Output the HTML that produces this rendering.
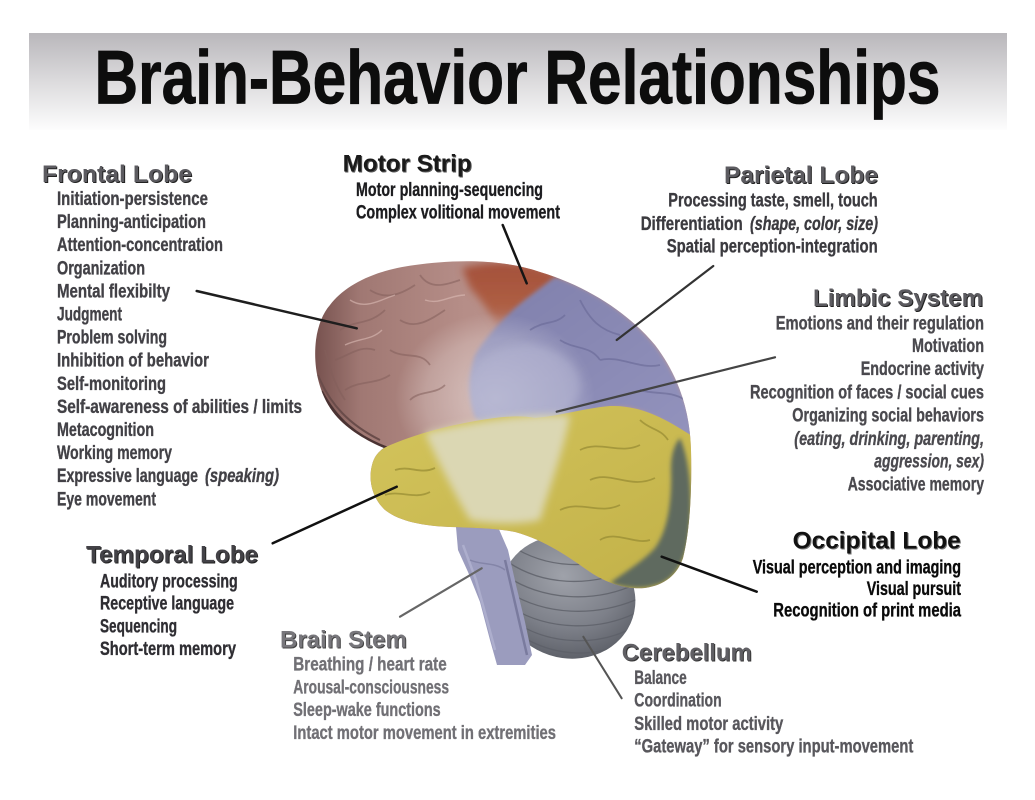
<!DOCTYPE html>
<html><head><meta charset="utf-8">
<style>
html,body{margin:0;padding:0;background:#fff;}
svg{display:block;}
.it{font-family:"Liberation Sans Narrow","Liberation Sans",sans-serif;font-weight:bold;font-size:19px;stroke-width:0.35px;}
.hd{font-family:"Liberation Sans",sans-serif;font-weight:bold;font-size:24px;}
.i{font-style:italic;}
</style></head>
<body>
<svg width="1035" height="800" viewBox="0 0 1035 800" xmlns="http://www.w3.org/2000/svg">
<defs>
<linearGradient id="tg" x1="0" y1="0" x2="0" y2="1">
<stop offset="0" stop-color="#b9b7bb"/><stop offset="0.5" stop-color="#dcdbdd"/><stop offset="1" stop-color="#fdfdfd"/>
</linearGradient>
<linearGradient id="fg" x1="0" y1="0" x2="1" y2="0">
<stop offset="0" stop-color="#77524f"/><stop offset="0.12" stop-color="#a07873"/><stop offset="0.4" stop-color="#b68e88"/><stop offset="1" stop-color="#c49c96"/>
</linearGradient>
<linearGradient id="mg" x1="0" y1="0" x2="0" y2="1">
<stop offset="0" stop-color="#a4503a"/><stop offset="0.55" stop-color="#ae5f44"/><stop offset="1" stop-color="#b07a70" stop-opacity="0"/>
</linearGradient>
<linearGradient id="pg" x1="0" y1="0" x2="1" y2="1">
<stop offset="0" stop-color="#7f7fab"/><stop offset="1" stop-color="#9393bd"/>
</linearGradient>
<linearGradient id="yg" x1="0" y1="0" x2="1" y2="1">
<stop offset="0" stop-color="#d3c45c"/><stop offset="1" stop-color="#c2b148"/>
</linearGradient>
<radialGradient id="cg" cx="0.42" cy="0.35" r="0.7">
<stop offset="0" stop-color="#9fa2aa"/><stop offset="0.6" stop-color="#7d8089"/><stop offset="1" stop-color="#5b5e66"/>
</radialGradient>
<radialGradient id="lg" cx="0.5" cy="0.5" r="0.5">
<stop offset="0" stop-color="#ffffff" stop-opacity="0.45"/><stop offset="0.7" stop-color="#ffffff" stop-opacity="0.22"/><stop offset="1" stop-color="#ffffff" stop-opacity="0"/>
</radialGradient>
<filter id="b2" x="-20%" y="-20%" width="140%" height="140%"><feGaussianBlur stdDeviation="2"/></filter>
<filter id="b4" x="-20%" y="-20%" width="140%" height="140%"><feGaussianBlur stdDeviation="4"/></filter>
<clipPath id="cc">
<path d="M 330,305 C 345,285 375,270 415,265 C 450,260 500,258 540,272 C 590,287 630,315 655,345 C 678,375 690,410 691,450 C 692,490 690,530 683,558 C 677,575 665,585 645,588 C 625,590 605,582 590,572 C 570,558 545,540 515,532 C 495,528 475,528 450,527 C 425,526 400,522 385,510 C 372,498 368,480 372,465 C 374,457 378,452 384,448 C 365,440 345,428 333,412 C 318,392 313,365 316,340 C 318,325 323,313 330,305 Z"/>
</clipPath>
<clipPath id="ce"><ellipse cx="568" cy="597" rx="68" ry="61" transform="rotate(18 568 597)"/></clipPath>
</defs>

<!-- title band -->
<rect x="29" y="33" width="978" height="97" fill="url(#tg)"/>
<text x="94.5" y="103.3" font-family="Liberation Sans, sans-serif" font-weight="bold" font-size="76" textLength="846" lengthAdjust="spacingAndGlyphs" fill="#0d0d0d" stroke="#0d0d0d" stroke-width="0.8">Brain-Behavior Relationships</text>

<!-- BRAIN -->
<!-- cerebellum -->
<ellipse cx="568" cy="597" rx="68" ry="61" transform="rotate(18 568 597)" fill="url(#cg)"/>
<g clip-path="url(#ce)" fill="none" stroke="#5d6068" stroke-width="1.3" opacity="0.8">
<path d="M505,560 C540,585 590,590 640,565"/>
<path d="M505,575 C540,600 595,605 640,582"/>
<path d="M508,592 C545,615 595,618 640,598"/>
<path d="M512,608 C548,630 598,632 638,612"/>
<path d="M518,624 C552,645 598,646 632,628"/>
<path d="M528,640 C558,656 596,658 624,642"/>
<path d="M510,545 C545,568 590,572 635,550"/>
</g>
<!-- brain stem -->
<path d="M456,527 L498,527 L508,550 L516,585 L525,622 L532,655 L525,665 L497,665 L490,640 L480,602 L468,572 L458,550 Z" fill="#9b9cbe"/>
<path d="M505,560 L512,590 L520,625 L527,655" stroke="#7a7b9e" stroke-width="2.5" fill="none"/>
<path d="M463,545 L476,580 L487,620 L495,650" stroke="#b5b6d3" stroke-width="2.5" fill="none" opacity="0.7"/>
<path d="M470,560 C480,565 495,562 505,570" stroke="#8485a8" stroke-width="1.5" fill="none"/>

<!-- cerebrum base (frontal) -->
<path d="M 330,305 C 345,285 375,270 415,265 C 450,260 500,258 540,272 C 590,287 630,315 655,345 C 678,375 690,410 691,450 C 692,490 690,530 683,558 C 677,575 665,585 645,588 C 625,590 605,582 590,572 C 570,558 545,540 515,532 C 495,528 475,528 450,527 C 425,526 400,522 385,510 C 372,498 368,480 372,465 C 374,457 378,452 384,448 C 365,440 345,428 333,412 C 318,392 313,365 316,340 C 318,325 323,313 330,305 Z" fill="url(#fg)"/>
<g clip-path="url(#cc)">
<path d="M320,392 C335,420 355,438 388,450" stroke="#4a3333" stroke-width="6" fill="none"/>
<path d="M318,375 C330,405 350,425 380,440" stroke="#6a4c4a" stroke-width="2" fill="none"/>
<path d="M462,268 C500,258 532,262 562,276 C552,288 538,298 524,308 C515,320 511,332 508,345 C498,325 486,305 470,288 Z" fill="url(#mg)" filter="url(#b4)"/>
<path d="M 555,277 C 595,290 630,315 655,345 C 678,375 690,410 695,440 C 670,425 650,412 630,408 C 610,405 595,410 580,415 C 560,421 540,424 520,426 C 500,428 485,425 475,418 C 468,400 468,375 475,355 C 485,338 500,322 515,308 C 528,297 542,287 555,277 Z" fill="url(#pg)" filter="url(#b2)"/>
<ellipse cx="495" cy="398" rx="100" ry="85" fill="url(#lg)"/>
<ellipse cx="525" cy="385" rx="55" ry="40" fill="#b3b4d1" opacity="0.5" filter="url(#b4)"/>
<path d="M 384,448 C 400,440 430,430 460,424 C 490,418 515,414 535,418 C 560,416 585,408 610,406 C 640,405 665,418 695,438 L 695,490 C 692,530 686,558 683,560 C 677,575 665,585 645,588 C 625,590 605,582 590,572 C 570,558 545,540 515,532 C 495,528 475,528 450,527 C 425,526 400,522 385,510 C 372,498 368,480 372,465 C 374,457 378,452 384,448 Z" fill="url(#yg)"/>
<path d="M425,433 C470,422 520,414 570,415 C565,445 552,480 540,520 C520,525 490,524 470,520 C455,495 440,465 425,433 Z" fill="#dbd7b3" filter="url(#b4)"/>
<path d="M680,438 C690,460 693,500 689,535 C686,558 678,575 662,583 C645,590 628,589 610,583 C625,572 642,562 655,548 C668,530 672,500 671,470 C671,455 674,445 680,438 Z" fill="#5e6b5f" filter="url(#b2)"/>
<g fill="none" stroke="#83605c" stroke-width="1.8" opacity="0.55">
<path d="M340,330 C355,320 370,325 385,310"/>
<path d="M335,360 C350,355 360,345 375,350"/>
<path d="M345,390 C360,380 375,385 390,375"/>
<path d="M370,290 C385,300 400,295 415,285"/>
<path d="M400,320 C415,330 430,320 445,310"/>
<path d="M390,350 C405,360 420,350 430,365"/>
<path d="M420,275 C430,290 445,285 460,280"/>
<path d="M410,400 C420,390 435,395 445,385"/>
<path d="M325,350 C330,370 335,385 345,400"/>
</g>
<g fill="none" stroke="#dcbcb6" stroke-width="1.4" opacity="0.6">
<path d="M350,300 C365,310 380,300 395,295"/>
<path d="M345,345 C360,338 372,340 382,330"/>
<path d="M425,300 C440,305 450,295 465,295"/>
</g>
<g fill="none" stroke="#968a33" stroke-width="1.8" opacity="0.7">
<path d="M395,470 C410,465 420,475 435,468"/>
<path d="M385,495 C400,490 415,500 430,492"/>
<path d="M580,450 C600,440 620,455 640,445"/>
<path d="M590,480 C610,470 630,490 655,478"/>
<path d="M560,510 C580,500 600,515 620,505"/>
<path d="M600,540 C615,530 635,545 650,540"/>
<path d="M640,420 C650,430 660,428 668,440"/>
</g>
<g fill="none" stroke="#6d6d9a" stroke-width="1.8" opacity="0.7">
<path d="M580,300 C590,320 600,330 620,335"/>
<path d="M600,360 C620,355 640,370 660,365"/>
<path d="M560,340 C575,350 590,345 600,360"/>
<path d="M640,390 C655,395 670,390 685,400"/>
<path d="M530,330 C545,320 555,325 565,315"/>
</g>
</g>

<!-- connectors -->
<g stroke-linecap="round" fill="none">
<line x1="196.7" y1="291" x2="356.7" y2="328.3" stroke="#1e1e1e" stroke-width="2.5"/>
<line x1="502.7" y1="225" x2="526.7" y2="283.3" stroke="#151515" stroke-width="2.5"/>
<line x1="713.3" y1="266" x2="616.7" y2="340" stroke="#333" stroke-width="2.2"/>
<line x1="775" y1="357.3" x2="556.7" y2="411.7" stroke="#444" stroke-width="2.2"/>
<line x1="272.7" y1="543.3" x2="396.7" y2="486.7" stroke="#111" stroke-width="2.5"/>
<line x1="400" y1="616.7" x2="481.7" y2="568.3" stroke="#666" stroke-width="2.2"/>
<line x1="583.3" y1="636.7" x2="621.7" y2="698.3" stroke="#555" stroke-width="2"/>
<line x1="661.7" y1="556.7" x2="756.7" y2="591.7" stroke="#111" stroke-width="2.5"/>
</g>

<!-- HEADINGS -->
<g class="hd">
<text x="43" y="183" textLength="150" lengthAdjust="spacingAndGlyphs" fill="#222">Frontal Lobe</text>
<text x="42" y="182" textLength="150" lengthAdjust="spacingAndGlyphs" fill="#5c5b60">Frontal Lobe</text>
<text x="343.7" y="172.7" textLength="129" lengthAdjust="spacingAndGlyphs" fill="#555">Motor Strip</text>
<text x="342.7" y="171.7" textLength="129" lengthAdjust="spacingAndGlyphs" fill="#1a1a1a">Motor Strip</text>
<text x="725" y="184" textLength="154" lengthAdjust="spacingAndGlyphs" fill="#222">Parietal Lobe</text>
<text x="724" y="183" textLength="154" lengthAdjust="spacingAndGlyphs" fill="#5c5b60">Parietal Lobe</text>
<text x="814" y="307" textLength="170" lengthAdjust="spacingAndGlyphs" fill="#222">Limbic System</text>
<text x="813" y="306" textLength="170" lengthAdjust="spacingAndGlyphs" fill="#5c5b60">Limbic System</text>
<text x="793.7" y="549.3" textLength="168" lengthAdjust="spacingAndGlyphs" fill="#777">Occipital Lobe</text>
<text x="792.7" y="548.3" textLength="168" lengthAdjust="spacingAndGlyphs" fill="#111">Occipital Lobe</text>
<text x="87" y="563.7" textLength="172" lengthAdjust="spacingAndGlyphs" fill="#222">Temporal Lobe</text>
<text x="86" y="562.7" textLength="172" lengthAdjust="spacingAndGlyphs" fill="#434247">Temporal Lobe</text>
<text x="281" y="648.7" textLength="126.7" lengthAdjust="spacingAndGlyphs" fill="#444">Brain Stem</text>
<text x="280" y="647.7" textLength="126.7" lengthAdjust="spacingAndGlyphs" fill="#77767b">Brain Stem</text>
<text x="622.7" y="661.7" textLength="130" lengthAdjust="spacingAndGlyphs" fill="#333">Cerebellum</text>
<text x="621.7" y="660.7" textLength="130" lengthAdjust="spacingAndGlyphs" fill="#605f64">Cerebellum</text>
</g>

<!-- ITEMS -->
<g class="it" fill="#424146" stroke="#424146">
<text x="57" y="205" textLength="151" lengthAdjust="spacingAndGlyphs">Initiation-persistence</text>
<text x="57" y="228.1" textLength="149" lengthAdjust="spacingAndGlyphs">Planning-anticipation</text>
<text x="57" y="251.2" textLength="166" lengthAdjust="spacingAndGlyphs">Attention-concentration</text>
<text x="57" y="274.3" textLength="88" lengthAdjust="spacingAndGlyphs">Organization</text>
<text x="57" y="297.4" textLength="113" lengthAdjust="spacingAndGlyphs">Mental flexibilty</text>
<text x="57" y="320.5" textLength="65" lengthAdjust="spacingAndGlyphs">Judgment</text>
<text x="57" y="343.6" textLength="110" lengthAdjust="spacingAndGlyphs">Problem solving</text>
<text x="57" y="366.7" textLength="152" lengthAdjust="spacingAndGlyphs">Inhibition of behavior</text>
<text x="57" y="389.8" textLength="109" lengthAdjust="spacingAndGlyphs">Self-monitoring</text>
<text x="57" y="412.9" textLength="245" lengthAdjust="spacingAndGlyphs">Self-awareness of abilities / limits</text>
<text x="57" y="436" textLength="97" lengthAdjust="spacingAndGlyphs">Metacognition</text>
<text x="57" y="459.1" textLength="115" lengthAdjust="spacingAndGlyphs">Working memory</text>
<text x="57" y="482.2" textLength="141" lengthAdjust="spacingAndGlyphs">Expressive language</text>
<text x="205" y="482.2" class="i" textLength="74" lengthAdjust="spacingAndGlyphs">(speaking)</text>
<text x="57" y="505.3" textLength="99" lengthAdjust="spacingAndGlyphs">Eye movement</text>
</g>

<g class="it" fill="#1c1c1f" stroke="#1c1c1f">
<text x="356" y="196" textLength="187" lengthAdjust="spacingAndGlyphs">Motor planning-sequencing</text>
<text x="356" y="218.3" textLength="204" lengthAdjust="spacingAndGlyphs">Complex volitional movement</text>
</g>

<g class="it" fill="#3b3a3f" stroke="#3b3a3f">
<text x="668.3" y="206.7" textLength="209.4" lengthAdjust="spacingAndGlyphs">Processing taste, smell, touch</text>
<text x="640.7" y="230" textLength="102" lengthAdjust="spacingAndGlyphs">Differentiation</text>
<text x="750" y="230" class="i" textLength="128" lengthAdjust="spacingAndGlyphs">(shape, color, size)</text>
<text x="666.7" y="252.7" textLength="211" lengthAdjust="spacingAndGlyphs">Spatial perception-integration</text>
</g>

<g class="it" fill="#4a494e" stroke="#4a494e">
<text x="775.7" y="329.3" textLength="208.3" lengthAdjust="spacingAndGlyphs">Emotions and their regulation</text>
<text x="912" y="352" textLength="72" lengthAdjust="spacingAndGlyphs">Motivation</text>
<text x="860.7" y="375" textLength="123.3" lengthAdjust="spacingAndGlyphs">Endocrine activity</text>
<text x="750" y="398.3" textLength="234" lengthAdjust="spacingAndGlyphs">Recognition of faces / social cues</text>
<text x="792.3" y="421.7" textLength="191.7" lengthAdjust="spacingAndGlyphs">Organizing social behaviors</text>
<text x="794.3" y="445" class="i" textLength="189.7" lengthAdjust="spacingAndGlyphs">(eating, drinking, parenting,</text>
<text x="874.3" y="467.3" class="i" textLength="109.7" lengthAdjust="spacingAndGlyphs">aggression, sex)</text>
<text x="847.7" y="490.7" textLength="136.3" lengthAdjust="spacingAndGlyphs">Associative memory</text>
</g>

<g class="it" fill="#0a0a0a" stroke="#0a0a0a">
<text x="752.7" y="573.3" textLength="208.3" lengthAdjust="spacingAndGlyphs">Visual perception and imaging</text>
<text x="866.7" y="595" textLength="94.3" lengthAdjust="spacingAndGlyphs">Visual pursuit</text>
<text x="773.3" y="616.7" textLength="187.7" lengthAdjust="spacingAndGlyphs">Recognition of print media</text>
</g>

<g class="it" fill="#2e2d32" stroke="#2e2d32">
<text x="100" y="587.3" textLength="137.7" lengthAdjust="spacingAndGlyphs">Auditory processing</text>
<text x="100" y="609.3" textLength="134" lengthAdjust="spacingAndGlyphs">Receptive language</text>
<text x="100" y="632.7" textLength="77" lengthAdjust="spacingAndGlyphs">Sequencing</text>
<text x="100" y="655" textLength="136" lengthAdjust="spacingAndGlyphs">Short-term memory</text>
</g>

<g class="it" fill="#717075" stroke="#717075">
<text x="293.3" y="670.7" textLength="153.4" lengthAdjust="spacingAndGlyphs">Breathing / heart rate</text>
<text x="293.3" y="693.3" textLength="155.7" lengthAdjust="spacingAndGlyphs">Arousal-consciousness</text>
<text x="293.3" y="716" textLength="147.4" lengthAdjust="spacingAndGlyphs">Sleep-wake functions</text>
<text x="293.3" y="739" textLength="262.7" lengthAdjust="spacingAndGlyphs">Intact motor movement in extremities</text>
</g>

<g class="it" fill="#58575c" stroke="#58575c">
<text x="634.3" y="684" textLength="52.4" lengthAdjust="spacingAndGlyphs">Balance</text>
<text x="634.3" y="706.7" textLength="87.4" lengthAdjust="spacingAndGlyphs">Coordination</text>
<text x="634.3" y="730" textLength="149" lengthAdjust="spacingAndGlyphs">Skilled motor activity</text>
<text x="634.3" y="752.7" textLength="279" lengthAdjust="spacingAndGlyphs">“Gateway” for sensory input-movement</text>
</g>
</svg>
</body></html>
